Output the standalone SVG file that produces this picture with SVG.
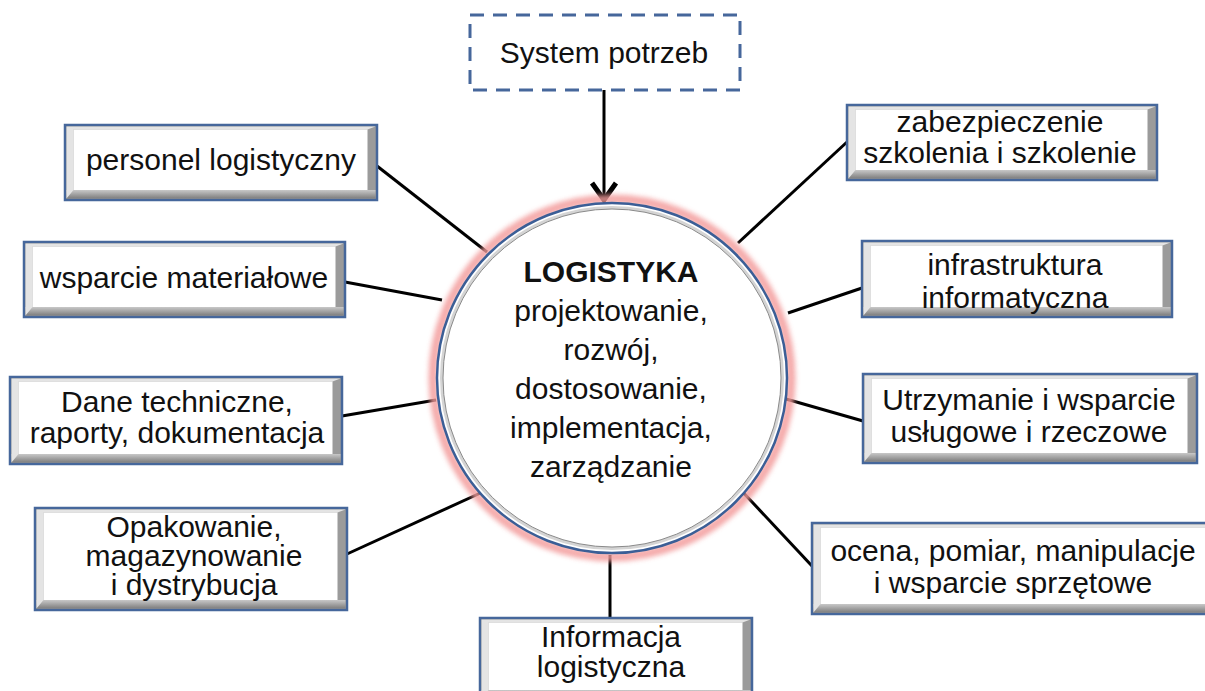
<svg xmlns="http://www.w3.org/2000/svg" width="1205" height="691" viewBox="0 0 1205 691">
<style>
.frame{fill:#9b9b9b;stroke:#46679b;stroke-width:2.5}
.hi{fill:#e4e4e4}
.face{fill:#ffffff}
.t{font-family:"Liberation Sans",Arial,sans-serif;font-size:30px;fill:#111;text-anchor:middle}
.conn{stroke:#000;stroke-width:3;fill:none;stroke-linecap:butt}
</style>
<defs>
<filter id="glow" x="-20%" y="-20%" width="140%" height="140%"><feGaussianBlur stdDeviation="2.5"/></filter>
<linearGradient id="bot" x1="0" y1="0" x2="0" y2="1"><stop offset="0" stop-color="#c8c8c8"/><stop offset="1" stop-color="#7e7e7e"/></linearGradient>
<marker id="arr" markerUnits="userSpaceOnUse" markerWidth="30" markerHeight="30" viewBox="0 0 30 30" refX="22" refY="15" orient="auto">
<path d="M4,3 L21,15 L4,27" fill="none" stroke="#000" stroke-width="5" stroke-linejoin="miter"/>
</marker>
</defs>
<rect width="1205" height="691" fill="#fff"/>

<g id="connectors">
<line class="conn" x1="604" y1="90" x2="604" y2="201" stroke-width="4" marker-end="url(#arr)"/>
<line class="conn" x1="377" y1="166" x2="487" y2="252"/>
<line class="conn" x1="345" y1="282" x2="442" y2="300"/>
<line class="conn" x1="342" y1="416" x2="436" y2="400"/>
<line class="conn" x1="347" y1="554" x2="487" y2="490"/>
<line class="conn" x1="610" y1="555" x2="610" y2="618"/>
<line class="conn" x1="812" y1="566" x2="738" y2="487"/>
<line class="conn" x1="863" y1="421" x2="786" y2="399"/>
<line class="conn" x1="862" y1="288" x2="788" y2="313"/>
<line class="conn" x1="847" y1="142" x2="738" y2="243"/>
</g>

<g id="center">
<circle cx="612" cy="378" r="179" fill="none" stroke="#f39b9b" stroke-width="9" filter="url(#glow)" opacity="0.85"/>
<circle cx="612" cy="378" r="175" fill="#fff" stroke="#3b5e96" stroke-width="2.5"/>
<circle cx="612" cy="378" r="170.5" fill="none" stroke="#d4d4d4" stroke-width="3"/>
<circle cx="612" cy="378" r="169" fill="none" stroke="#8a8a8a" stroke-width="1"/>
<text class="t" x="611" y="282" font-weight="bold" font-size="26">LOGISTYKA</text>
<text class="t" x="611" y="321" font-size="31">projektowanie,</text>
<text class="t" x="611" y="360" font-size="31">rozwój,</text>
<text class="t" x="611" y="399" font-size="31">dostosowanie,</text>
<text class="t" x="611" y="438" font-size="31">implementacja,</text>
<text class="t" x="611" y="477" font-size="31">zarządzanie</text>
</g>

<g id="system-potrzeb">
<rect x="470" y="15" width="270" height="75" fill="#fff" stroke="#46679b" stroke-width="3" stroke-dasharray="14 9"/>
<text class="t" x="604" y="63" font-size="32">System potrzeb</text>
</g>

<g id="personel">
<rect class="frame" x="65" y="125" width="312" height="75"/>
<rect x="66.5" y="190" width="309" height="8.5" fill="url(#bot)"/>
<path class="hi" d="M66.5,126.5 H375.5 L367.5,129.5 H73.5 V190 L66.5,198.5 Z"/>
<rect class="face" x="73.5" y="129.5" width="294" height="60.5"/>
<text class="t" x="221" y="170">personel logistyczny</text>
</g>

<g id="wsparcie">
<rect class="frame" x="24" y="242" width="321" height="75"/>
<rect x="25.5" y="307" width="318" height="8.5" fill="url(#bot)"/>
<path class="hi" d="M25.5,243.5 H343.5 L335.5,246.5 H32.5 V307 L25.5,315.5 Z"/>
<rect class="face" x="32.5" y="246.5" width="303" height="60.5"/>
<text class="t" x="184" y="288">wsparcie materiałowe</text>
</g>

<g id="dane">
<rect class="frame" x="10" y="377" width="332" height="87"/>
<rect x="11.5" y="454" width="329" height="8.5" fill="url(#bot)"/>
<path class="hi" d="M11.5,378.5 H340.5 L332.5,381.5 H18.5 V454 L11.5,462.5 Z"/>
<rect class="face" x="18.5" y="381.5" width="314" height="72.5"/>
<text class="t" x="177" y="412" font-size="29">Dane techniczne,</text>
<text class="t" x="177" y="443" font-size="29">raporty, dokumentacja</text>
</g>

<g id="opakowanie">
<rect class="frame" x="35" y="508" width="312" height="102"/>
<rect x="36.5" y="600" width="309" height="8.5" fill="url(#bot)"/>
<path class="hi" d="M36.5,509.5 H345.5 L337.5,512.5 H43.5 V600 L36.5,608.5 Z"/>
<rect class="face" x="43.5" y="512.5" width="294" height="87.5"/>
<text class="t" x="194" y="537" font-size="24">Opakowanie,</text>
<text class="t" x="194" y="566" font-size="24">magazynowanie</text>
<text class="t" x="194" y="595" font-size="24">i dystrybucja</text>
</g>

<g id="informacja">
<rect class="frame" x="480" y="618" width="272" height="82"/>
<rect x="481.5" y="690" width="269" height="8.5" fill="url(#bot)"/>
<path class="hi" d="M481.5,619.5 H750.5 L742.5,622.5 H488.5 V690 L481.5,698.5 Z"/>
<rect class="face" x="488.5" y="622.5" width="254" height="67.5"/>
<text class="t" x="611" y="647" font-size="29">Informacja</text>
<text class="t" x="611" y="677" font-size="29">logistyczna</text>
</g>

<g id="zabezpieczenie">
<rect class="frame" x="847" y="105" width="310" height="75"/>
<rect x="848.5" y="170" width="307" height="8.5" fill="url(#bot)"/>
<path class="hi" d="M848.5,106.5 H1155.5 L1147.5,109.5 H855.5 V170 L848.5,178.5 Z"/>
<rect class="face" x="855.5" y="109.5" width="292" height="60.5"/>
<text class="t" x="1000" y="132">zabezpieczenie</text>
<text class="t" x="1000" y="163">szkolenia i szkolenie</text>
</g>

<g id="infrastruktura">
<rect class="frame" x="862" y="241" width="310" height="76"/>
<rect x="863.5" y="307" width="307" height="8.5" fill="url(#bot)"/>
<path class="hi" d="M863.5,242.5 H1170.5 L1162.5,245.5 H870.5 V307 L863.5,315.5 Z"/>
<rect class="face" x="870.5" y="245.5" width="292" height="61.5"/>
<text class="t" x="1015" y="275">infrastruktura</text>
<text class="t" x="1015" y="308">informatyczna</text>
</g>

<g id="utrzymanie">
<rect class="frame" x="863" y="374" width="334" height="89"/>
<rect x="864.5" y="453" width="331" height="8.5" fill="url(#bot)"/>
<path class="hi" d="M864.5,375.5 H1195.5 L1187.5,378.5 H871.5 V453 L864.5,461.5 Z"/>
<rect class="face" x="871.5" y="378.5" width="316" height="74.5"/>
<text class="t" x="1029" y="410">Utrzymanie i wsparcie</text>
<text class="t" x="1029" y="442">usługowe i rzeczowe</text>
</g>

<g id="ocena">
<rect class="frame" x="812" y="523" width="410" height="91"/>
<rect x="813.5" y="604" width="407" height="8.5" fill="url(#bot)"/>
<path class="hi" d="M813.5,524.5 H1220.5 L1212.5,527.5 H820.5 V604 L813.5,612.5 Z"/>
<rect class="face" x="820.5" y="527.5" width="392" height="76.5"/>
<text class="t" x="1013" y="561">ocena, pomiar, manipulacje</text>
<text class="t" x="1013" y="593">i wsparcie sprzętowe</text>
</g>
</svg>
